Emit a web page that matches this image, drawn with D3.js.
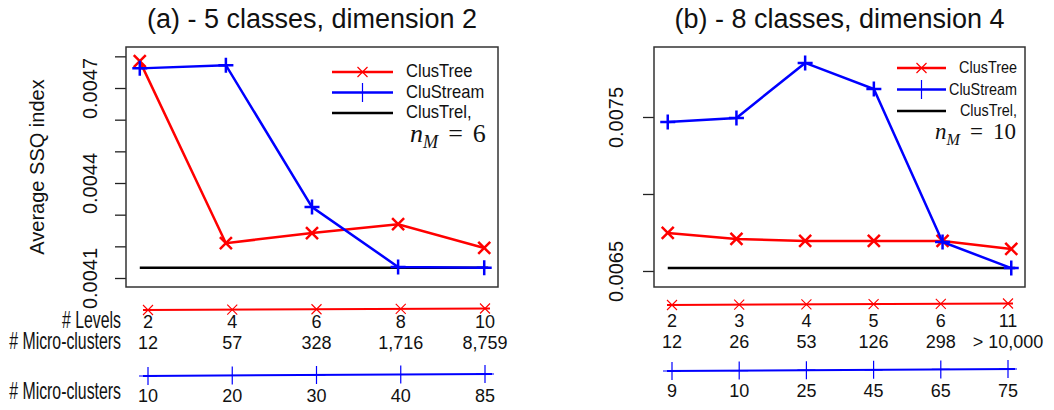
<!DOCTYPE html>
<html>
<head>
<meta charset="utf-8">
<script src="https://cdn.jsdelivr.net/npm/d3@7"></script>
<style>
  body { margin: 0; background: #fff; }
  svg { display: block; font-family: "Liberation Sans", Arial, sans-serif; }
</style>
</head>
<body>
<div id="chart"></div>
<script>
// ---- panel (a) data ----
const aTitle = "(a) - 5 classes, dimension 2";
const aLevels = ["2", "4", "6", "8", "10"];
const aTreeMicro = ["12", "57", "328", "1,716", "8,759"];
const aStreamMicro = ["10", "20", "30", "40", "85"];
const aClusTree = [0.004785, 0.004210, 0.004242, 0.004270, 0.004195];
const aCluStream = [0.004762, 0.004772, 0.004324, 0.004135, 0.004132];
const aClusTrel = 0.004132;
const aYTicks = [0.0041, 0.0042, 0.0043, 0.0044, 0.0045, 0.0046, 0.0047, 0.0048];
const aYLabels = ["0.0041", "0.0044", "0.0047"];
const aNM = "6";

// ---- panel (b) data ----
const bTitle = "(b) - 8 classes, dimension 4";
const bLevels = ["2", "3", "4", "5", "6", "11"];
const bTreeMicro = ["12", "26", "53", "126", "298", "> 10,000"];
const bStreamMicro = ["9", "10", "25", "45", "65", "75"];
const bClusTree = [0.006747, 0.006708, 0.006695, 0.006695, 0.006695, 0.006643];
const bCluStream = [0.007468, 0.007494, 0.007851, 0.007682, 0.006688, 0.006519];
const bClusTrel = 0.006519;
const bYTicks = [0.0065, 0.0070, 0.0075];
const bYLabels = ["0.0065", "0.0075"];
const bNM = "10";

const seriesNames = ["ClusTree", "CluStream", "ClusTrel,"];
const RED = "#ff0000", BLUE = "#0000ff";

const svg = d3.select("#chart").append("svg")
    .attr("width", 1054)
    .attr("height", 410);

// stroke-only marker shapes, size = half extent
const plusSym = { draw(c, r) { c.moveTo(-r, 0); c.lineTo(r, 0); c.moveTo(0, -r); c.lineTo(0, r); } };
const timesSym = { draw(c, r) { c.moveTo(-r, -r); c.lineTo(r, r); c.moveTo(-r, r); c.lineTo(r, -r); } };
const marker = (type, r) => d3.symbol().type(type).size(r)();

function drawPanel(cfg, d) {
    const n = d.levels.length;
    const idx = d3.range(1, n + 1);
    const pad = 0.04 * (n - 1);

    const x = d3.scaleLinear().domain([1 - pad, n + pad]).range([cfg.left, cfg.right]);
    const y = d3.scaleLinear().domain(cfg.yDomain).range([cfg.bottom, cfg.top]);
    const bx = d3.scaleLinear().domain([1, n]).range(cfg.bottomRange);

    const g = svg.append("g");

    // title
    g.append("text")
        .attr("x", (cfg.left + cfg.right) / 2)
        .attr("y", 28)
        .attr("text-anchor", "middle")
        .attr("font-size", 27)
        .attr("fill", "#111")
        .text(d.title);

    // y axis
    const yAxis = d3.axisLeft(y)
        .tickValues(d.yTicks)
        .tickSize(11)
        .tickSizeOuter(0)
        .tickFormat(v => d.yLabels.includes(v.toFixed(4)) ? v.toFixed(4) : "");
    const ax = g.append("g")
        .attr("transform", `translate(${cfg.left},0)`)
        .call(yAxis);
    ax.select(".domain").remove();
    ax.selectAll(".tick line").attr("stroke", "#222").attr("stroke-width", 1.3);
    ax.selectAll(".tick text")
        .attr("x", null)
        .attr("dy", null)
        .attr("text-anchor", "middle")
        .attr("font-size", 20)
        .attr("font-family", "Liberation Sans, Arial, sans-serif")
        .attr("fill", "#111")
        .attr("transform", `translate(${-cfg.labelOff},0) rotate(-90)`);

    if (cfg.yTitle) {
        g.append("text")
            .attr("transform", `translate(44,${(cfg.top + cfg.bottom) / 2}) rotate(-90)`)
            .attr("text-anchor", "middle")
            .attr("font-size", 20)
            .attr("fill", "#111")
            .text(cfg.yTitle);
    }

    // plot box
    g.append("rect")
        .attr("x", cfg.left).attr("y", cfg.top)
        .attr("width", cfg.right - cfg.left)
        .attr("height", cfg.bottom - cfg.top)
        .attr("fill", "none")
        .attr("stroke", "#333")
        .attr("stroke-width", 1.5);

    const line = d3.line().x((v, i) => x(i + 1)).y(v => y(v));

    // ClusTrel baseline
    g.append("line")
        .attr("x1", x(1)).attr("x2", x(n) + 4)
        .attr("y1", y(d.clusTrel)).attr("y2", y(d.clusTrel))
        .attr("stroke", "#000").attr("stroke-width", 2.5);

    // ClusTree
    g.append("path").datum(d.clusTree)
        .attr("d", line).attr("fill", "none")
        .attr("stroke", RED).attr("stroke-width", 2.5);
    g.selectAll(null).data(d.clusTree).join("path")
        .attr("transform", (v, i) => `translate(${x(i + 1)},${y(v)})`)
        .attr("d", marker(timesSym, 6))
        .attr("stroke", RED).attr("stroke-width", 2.5).attr("fill", "none");

    // CluStream
    g.append("path").datum(d.cluStream)
        .attr("d", line).attr("fill", "none")
        .attr("stroke", BLUE).attr("stroke-width", 2.5);
    g.selectAll(null).data(d.cluStream).join("path")
        .attr("transform", (v, i) => `translate(${x(i + 1)},${y(v)})`)
        .attr("d", marker(plusSym, 7.5))
        .attr("stroke", BLUE).attr("stroke-width", 2.5).attr("fill", "none");

    // legend
    const L = cfg.legend;
    const colors = [RED, BLUE, "#000"];
    seriesNames.forEach((name, i) => {
        const ly = L.y + i * L.step;
        g.append("line")
            .attr("x1", L.x0).attr("x2", L.x1)
            .attr("y1", ly).attr("y2", ly)
            .attr("stroke", colors[i]).attr("stroke-width", 2.5);
        if (i < 2) {
            g.append("path")
                .attr("transform", `translate(${(L.x0 + L.x1) / 2},${ly})`)
                .attr("d", i === 0 ? marker(timesSym, 5) : marker(plusSym, 9.5))
                .attr("stroke", colors[i]).attr("stroke-width", 1.2).attr("fill", "none");
        }
        g.append("text")
            .attr("transform", `translate(${L.tx},${ly + 5}) scale(${L.sx},1)`)
            .attr("text-anchor", L.anchor)
            .attr("font-size", L.fs)
            .attr("fill", "#111")
            .text(name);
    });
    const mt = g.append("text")
        .attr("x", L.mx).attr("y", L.my)
        .attr("text-anchor", L.anchor)
        .attr("font-family", "Liberation Serif, 'DejaVu Serif', serif")
        .attr("font-size", L.mfs)
        .attr("fill", "#111");
    mt.append("tspan").attr("font-style", "italic").text("n");
    mt.append("tspan").attr("font-style", "italic").attr("font-size", L.mfs * 0.7).attr("dy", 6).text("M");
    mt.append("tspan").attr("dy", -6).attr("dx", 10).text("=");
    mt.append("tspan").attr("dx", 10).text(d.nM);

    // bottom: ClusTree levels / micro-clusters axis
    const B = cfg.bot;
    g.append("line")
        .attr("x1", bx(1) - 5).attr("x2", bx(n) + 5)
        .attr("y1", B.redY).attr("y2", B.redY - 1.5)
        .attr("stroke", RED).attr("stroke-width", 2);
    g.selectAll(null).data(idx).join("path")
        .attr("transform", i => `translate(${bx(i)},${B.redY - 1.5 * (i - 1) / (n - 1)})`)
        .attr("d", marker(timesSym, 5))
        .attr("stroke", RED).attr("stroke-width", 1.1).attr("fill", "none");
    g.selectAll(null).data(d.levels).join("text")
        .attr("x", (v, i) => bx(i + 1)).attr("y", B.levelY)
        .attr("text-anchor", "middle").attr("font-size", 18).attr("fill", "#111")
        .text(v => v);
    g.selectAll(null).data(d.treeMicro).join("text")
        .attr("x", (v, i) => bx(i + 1)).attr("y", B.microY)
        .attr("text-anchor", "middle").attr("font-size", 18).attr("fill", "#111")
        .text(v => v);

    // bottom: CluStream micro-clusters axis
    g.append("line")
        .attr("x1", bx(1) - 5).attr("x2", bx(n) + 7)
        .attr("y1", B.blueY).attr("y2", B.blueY - 2)
        .attr("stroke", BLUE).attr("stroke-width", 2);
    g.selectAll(null).data(idx).join("path")
        .attr("transform", i => `translate(${bx(i)},${B.blueY - 2 * (i - 1) / (n - 1)})`)
        .attr("d", marker(plusSym, 9))
        .attr("stroke", BLUE).attr("stroke-width", 1.2).attr("fill", "none");
    g.selectAll(null).data(d.streamMicro).join("text")
        .attr("x", (v, i) => bx(i + 1)).attr("y", B.streamY)
        .attr("text-anchor", "middle").attr("font-size", 18).attr("fill", "#111")
        .text(v => v);

    if (cfg.rowLabels) {
        const rows = [["# Levels", B.levelY], ["# Micro-clusters", B.microY], ["# Micro-clusters", B.streamY - 3]];
        rows.forEach(([t, yy]) => {
            g.append("text")
                .attr("transform", `translate(121,${yy}) scale(0.66,1)`)
                .attr("text-anchor", "end")
                .attr("font-size", 24)
                .attr("fill", "#111")
                .text(t);
        });
    }
}

drawPanel({
    left: 126, right: 498, top: 47, bottom: 287,
    yDomain: [0.0040716, 0.0048295],
    labelOff: 29,
    yTitle: "Average SSQ index",
    legend: { x0: 332, x1: 393, y: 72, step: 20.5, tx: 406, anchor: "start", fs: 18, sx: 0.92,
              mx: 410, my: 142, mfs: 26 },
    bottomRange: [148, 485],
    bot: { redY: 310, levelY: 328, microY: 349, blueY: 376, streamY: 402 },
    rowLabels: true
}, {
    title: aTitle, levels: aLevels, treeMicro: aTreeMicro, streamMicro: aStreamMicro,
    clusTree: aClusTree, cluStream: aCluStream, clusTrel: aClusTrel,
    yTicks: aYTicks, yLabels: aYLabels, nM: aNM
});

drawPanel({
    left: 654, right: 1025, top: 47, bottom: 287,
    yDomain: [0.006396, 0.0079545],
    labelOff: 31,
    yTitle: null,
    legend: { x0: 897, x1: 946, y: 68, step: 21.5, tx: 1017, anchor: "end", fs: 16, sx: 0.9,
              mx: 1016, my: 139, mfs: 23 },
    bottomRange: [672, 1008],
    bot: { redY: 305, levelY: 327, microY: 348, blueY: 371, streamY: 397 },
    rowLabels: false
}, {
    title: bTitle, levels: bLevels, treeMicro: bTreeMicro, streamMicro: bStreamMicro,
    clusTree: bClusTree, cluStream: bCluStream, clusTrel: bClusTrel,
    yTicks: bYTicks, yLabels: bYLabels, nM: bNM
});
</script>
</body>
</html>
